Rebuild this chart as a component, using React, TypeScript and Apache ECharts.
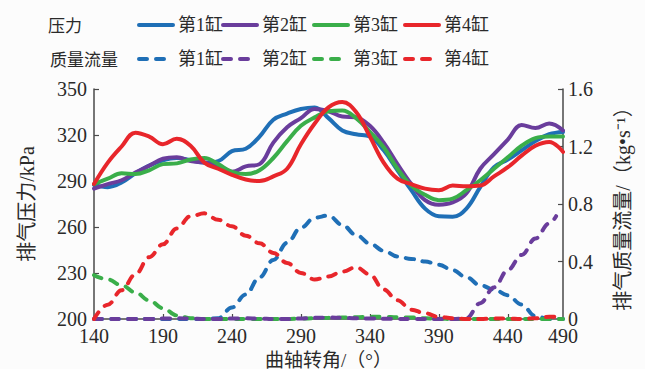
import React, { useEffect, useRef } from "react";
import * as echarts from "echarts";

// crank angle samples (deg)
const angles = [140,150,160,170,180,190,200,210,220,230,240,250,260,270,280,290,300,310,320,330,340,350,360,370,380,390,400,410,420,430,440,450,460,470,480];

// exhaust pressure (kPa)
const pressureCyl1 = [287.5,286,289,295,300,303.5,305,303.5,302,303,309.5,311,319,330,334,337,338,331,323,320.5,319,310,297,284,272,267,266.7,272,286,299,304,310,316,320.5,322];
const pressureCyl2 = [285,288,290.5,295.5,300,304.5,305.5,303,302,300,296,299.5,301,315,325,331,337,335.5,332,331.5,326,315,301,288,277.5,274.5,276,282,298,307.5,317,326.5,324.5,327.5,323];
const pressureCyl3 = [288,291.5,295,294.5,297,301,301.5,304,305,301,296,294.5,297,305,316,326,331.5,335.5,336,331,322,312,298,287,281,277.5,278.5,284,290.5,298,305.5,313,318,319,319];
const pressureCyl4 = [288,302,312.5,321.5,319,314,317.5,313,302,298,294,291,290,293,298,314,327.5,338,341.5,335,319,302,291.5,288,285,284,287,286.5,287,293,299,306.5,313,315.5,309];

// exhaust mass flow (kg/s)
const flowCyl1 = [0,0,0,0,0,0,0,0,0,0.005,0.08,0.17,0.29,0.41,0.53,0.635,0.705,0.72,0.655,0.585,0.525,0.475,0.435,0.418,0.4,0.378,0.34,0.29,0.235,0.205,0.165,0.1,0.02,0,0];
const flowCyl2Angles = [140,150,160,170,180,190,200,210,220,230,240,250,260,270,280,290,300,310,320,330,340,350,360,370,380,390,400,410,420,430,440,450,460,470,475];
const flowCyl2 = [0,0,0,0,0,0.003,0.005,0.003,0,0,0.003,0.005,0.003,0,0,0.003,0.008,0.01,0.008,0.005,0.003,0.002,0,0,0,0,0,0.005,0.11,0.22,0.34,0.445,0.56,0.665,0.715];
const flowCyl3 = [0.305,0.275,0.235,0.185,0.13,0.075,0.025,0.005,0,0,0,0,0,0,0,0.003,0.005,0.008,0.01,0.012,0.015,0.015,0.012,0.01,0.005,0.002,0,0,0,0,0,0,0,0,0];
const flowCyl4 = [0,0.1,0.2,0.31,0.43,0.52,0.63,0.715,0.735,0.69,0.645,0.58,0.527,0.46,0.39,0.32,0.275,0.295,0.33,0.36,0.31,0.205,0.13,0.065,0.04,0.015,0.005,0,0,0.003,0.003,0,0.005,0.015,0.02];

// axis ticks
const xTickValues = [140,190,240,290,340,390,440,480];
const xTickLabels = ["140","190","240","290","340","390","440","490"];
const leftTickValues = [200,230,260,290,320,350];
const cylNames = ["第1缸","第2缸","第3缸","第4缸"];
const colors = ["#1f6fb6","#6a3d9c","#3aae4a","#e8262b"];

const FONT = "'Liberation Serif', 'Noto Sans CJK SC', serif";
const TEXT = "#2a2a2a";
const AXIS = "#4a4a4a";

const zip = (xs: number[], ys: number[]) => xs.map((x, i) => [x, ys[i]]);

export default function App() {
  const ref = useRef<HTMLDivElement>(null);
  useEffect(() => {
    if (!ref.current) return;
    const chart = echarts.init(ref.current, undefined, { renderer: "svg" });
    const pressures = [pressureCyl1, pressureCyl2, pressureCyl3, pressureCyl4];
    const flows = [
      zip(angles, flowCyl1),
      zip(flowCyl2Angles, flowCyl2),
      zip(angles, flowCyl3),
      zip(angles, flowCyl4),
    ];
    const flowOrder = [0, 2, 1, 3];
    const series: any[] = [];
    flowOrder.forEach((i) => {
      series.push({
        name: "Q-" + cylNames[i],
        type: "line",
        yAxisIndex: 1,
        data: flows[i],
        smooth: 0.4,
        smoothMonotone: "x",
        symbol: "none",
        lineStyle: { color: colors[i], width: 4, type: [8, 9], cap: "round" },
        itemStyle: { color: colors[i] },
      });
    });
    pressures.forEach((p, i) => {
      series.push({
        name: "P-" + cylNames[i],
        type: "line",
        yAxisIndex: 0,
        data: zip(angles, p),
        smooth: 0.4,
        symbol: "none",
        lineStyle: { color: colors[i], width: 4, cap: "round" },
        itemStyle: { color: colors[i] },
      });
    });
    const legendLefts = [137, 221, 312, 403];
    const rowCenters = [26, 60];
    const legends: any[] = [];
    ["P-", "Q-"].forEach((prefix, row) => {
      cylNames.forEach((n, i) => {
        legends.push({
          data: [prefix + n],
          left: legendLefts[i],
          top: rowCenters[row] - 10,
          orient: "horizontal",
          padding: 0,
          itemWidth: 34,
          itemHeight: 12,
          selectedMode: false,
          itemStyle: { opacity: 0 },
          lineStyle: { width: 4, cap: "round" },
          formatter: (name: string) => name.slice(2),
          textStyle: { fontSize: 18, color: TEXT, fontFamily: FONT },
        });
      });
    });
    chart.setOption({
      animation: false,
      backgroundColor: "#fcfcfc",
      grid: { left: 94, right: 82, top: 89, bottom: 50, outerBoundsMode: "none", containLabel: false },
      legend: legends,
      graphic: [
        { type: "text", x: 48, y: rowCenters[0], style: { text: "压力", font: `17px ${FONT}`, fill: TEXT, verticalAlign: "middle" } },
        { type: "text", x: 50, y: rowCenters[1], style: { text: "质量流量", font: `17px ${FONT}`, fill: TEXT, verticalAlign: "middle" } },
      ],
      xAxis: {
        type: "value",
        min: 140,
        max: 480,
        name: "曲轴转角/（°）",
        nameLocation: "middle",
        nameGap: 23,
        nameTextStyle: { fontSize: 19, lineHeight: 19, color: TEXT, fontFamily: FONT },
        axisLine: { show: true, lineStyle: { color: AXIS, width: 1.5 } },
        axisTick: { show: true, inside: true, length: 5, customValues: xTickValues.slice(1, 7), lineStyle: { color: AXIS, width: 1.2 } },
        axisLabel: {
          customValues: xTickValues,
          formatter: (v: number) => xTickLabels[xTickValues.indexOf(v)] ?? String(v),
          fontSize: 20, lineHeight: 16, color: TEXT, fontFamily: FONT, margin: 9,
        },
        splitLine: { show: false },
      },
      yAxis: [
        {
          type: "value",
          min: 200,
          max: 350,
          position: "left",
          name: "排气压力/kPa",
          nameLocation: "middle",
          nameRotate: 90,
          nameGap: 57,
          nameTextStyle: { fontSize: 20, color: TEXT, fontFamily: FONT },
          axisLine: { show: true, lineStyle: { color: AXIS, width: 1.5 } },
          axisTick: { show: true, inside: true, length: 5, customValues: leftTickValues, lineStyle: { color: AXIS, width: 1.2 } },
          axisLabel: { customValues: leftTickValues, fontSize: 20, lineHeight: 16, color: TEXT, fontFamily: FONT, margin: 7 },
          splitLine: { show: false },
        },
        {
          type: "value",
          min: 0,
          max: 1.6,
          interval: 0.4,
          position: "right",
          name: "排气质量流量/（kg•s⁻¹）",
          nameLocation: "middle",
          nameRotate: 90,
          nameGap: 50,
          nameTextStyle: { fontSize: 20, color: TEXT, fontFamily: FONT },
          axisLine: { show: true, lineStyle: { color: AXIS, width: 1.5 } },
          axisTick: { show: true, inside: true, length: 5, lineStyle: { color: AXIS, width: 1.2 } },
          axisLabel: {
            formatter: (v: number) => (v === 0 ? "0" : v.toFixed(1)),
            fontSize: 20, lineHeight: 16, color: TEXT, fontFamily: FONT, margin: 5,
          },
          splitLine: { show: false },
        },
      ],
      series,
    });
    return () => chart.dispose();
  }, []);
  return <div ref={ref} style={{ position: "absolute", left: 0, top: 0, width: 645, height: 369 }} />;
}
